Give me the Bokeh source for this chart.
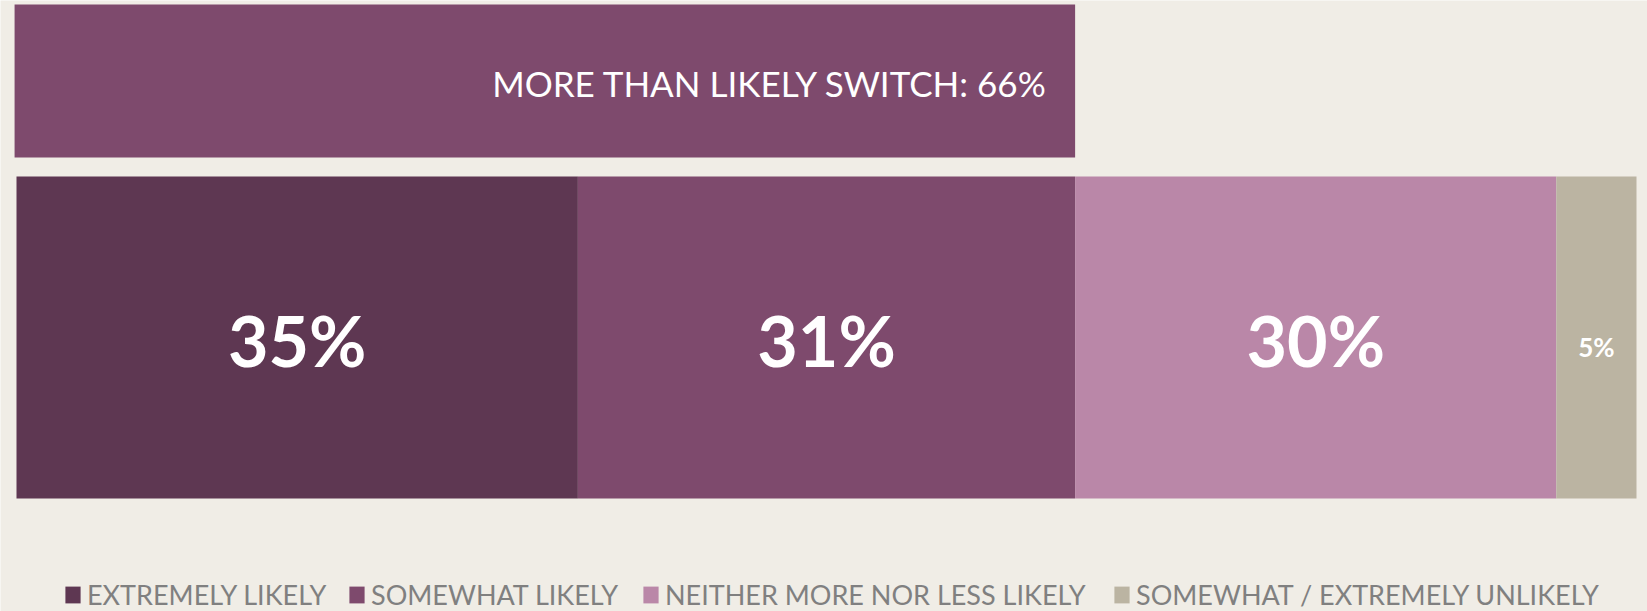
from bokeh.plotting import figure
from bokeh.models import Range1d, ColumnDataSource, Legend, LegendItem
from bokeh.core.properties import value
from bokeh.embed import file_html
from bokeh.resources import INLINE

# ---- data ----
categories = ["EXTREMELY LIKELY", "SOMEWHAT LIKELY",
              "NEITHER MORE NOR LESS LIKELY", "SOMEWHAT / EXTREMELY UNLIKELY"]
values = [35, 31, 30, 5]
value_labels = ["35%", "31%", "30%", "5%"]
summary_label = "MORE THAN LIKELY SWITCH: 66%"
summary_value = 66

# ---- styles ----
colors = ["#5E3752", "#7E4A6D", "#BA87A8", "#BBB4A2"]
summary_color = "#7E4A6D"
bg = "#F0EDE6"
FONT = "Lato"
W, H = 1647, 611

total = sum(values)
left_px, right_px = 16, 1636
ppu = (right_px - left_px) / total
x0 = -left_px / ppu
x1 = x0 + W / ppu

lefts, rights, centers = [], [], []
acc = 0
for v in values:
    lefts.append(acc)
    rights.append(acc + v)
    centers.append(acc + v / 2)
    acc += v

src = ColumnDataSource(dict(left=lefts, right=rights, center=centers,
                            color=colors, label=value_labels, cat=categories))

p = figure(width=W, height=H, x_range=Range1d(x0, x1), y_range=Range1d(H, 0),
           output_backend="svg", toolbar_location=None, min_border=0,
           background_fill_color=bg, border_fill_color=bg, outline_line_color=None)
p.axis.visible = False
p.grid.visible = False

# summary bar
p.quad(left=[-0.12], right=[summary_value], top=[4], bottom=[157],
       fill_color=summary_color, line_color=None)
p.text(x=[summary_value], y=[82], text=[summary_label], text_align="right",
       text_baseline="middle", x_offset=-27, text_color="white",
       text_font=value(FONT), text_font_size="35px")

# stacked bar
bars = p.quad(left="left", right="right", top=176, bottom=498, source=src,
              fill_color="color", line_color=None)

big = ColumnDataSource(dict(x=centers[:3], t=value_labels[:3]))
p.text(x="x", y=339, text="t", source=big, text_align="center",
       text_baseline="middle", text_color="white", text_font=value(FONT),
       text_font_style="bold", text_font_size="70px")
small = ColumnDataSource(dict(x=centers[3:], t=value_labels[3:]))
p.text(x="x", y=346, text="t", source=small, text_align="center",
       text_baseline="middle", text_color="white", text_font=value(FONT),
       text_font_style="bold", text_font_size="26px")

# legends
leg_x = [63, 347, 641, 1112]
for i, cat in enumerate(categories):
    lg = Legend(items=[LegendItem(label=cat, renderers=[bars], index=i)],
                location=(leg_x[i], 0), orientation="horizontal",
                glyph_width=19, glyph_height=21, label_standoff=5,
                padding=0, margin=0, spacing=0, border_line_color=None,
                background_fill_alpha=0, label_text_font=FONT,
                label_text_font_size="27px", label_text_color="#808080")
    p.add_layout(lg)

open("out.html", "w").write(file_html(p, INLINE))
